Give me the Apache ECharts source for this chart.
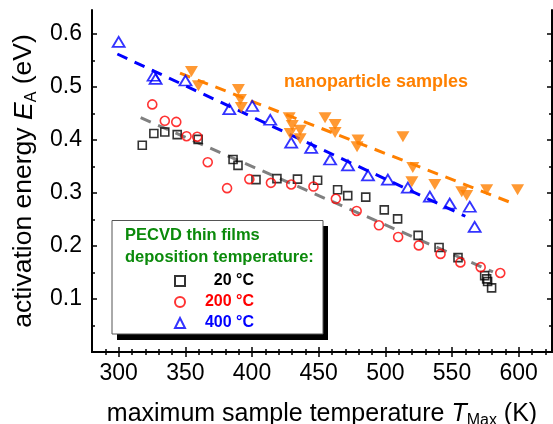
<!DOCTYPE html>
<html>
<head>
<meta charset="utf-8">
<script src="https://cdn.jsdelivr.net/npm/echarts@6/dist/echarts.min.js"></script>
<style>
  html, body { margin: 0; padding: 0; background: #fff; }
  #chart { width: 553px; height: 424px; }
</style>
</head>
<body>
<div id="chart"></div>
<script>
// tick positions
const xTicks = [300, 350, 400, 450, 500, 550, 600];
const xMinor = [290, 300, 310, 320, 330, 340, 350, 360, 370, 380, 390, 400, 410, 420, 430, 440, 450, 460,
  470, 480, 490, 500, 510, 520, 530, 540, 550, 560, 570, 580, 590, 600, 610, 620];
const yTicks = [0.1, 0.2, 0.3, 0.4, 0.5, 0.6];
const yMinor = [0.05, 0.15, 0.25, 0.35, 0.45, 0.55];

// [T_Max (K), E_A (eV)]
const films20 = [[317.7, 0.390], [326.4, 0.412], [334.6, 0.415], [343.9, 0.410], [359.6, 0.401], [385.8, 0.363],
  [389.5, 0.352], [403, 0.325], [418.7, 0.327], [434.1, 0.326], [449.2, 0.324], [464.2, 0.306], [471.8, 0.295],
  [485.3, 0.292], [499.2, 0.268], [509.2, 0.251], [524.6, 0.220], [540.3, 0.197], [554.5, 0.178], [574.5, 0.144],
  [576, 0.138], [576.7, 0.133], [579.7, 0.121]];
const films200 = [[325.2, 0.467], [334.6, 0.436], [343.2, 0.434], [350.9, 0.407], [358.9, 0.406], [366.8, 0.358],
  [381.3, 0.309], [398, 0.326], [414.2, 0.319], [429.4, 0.316], [446.1, 0.312], [462.9, 0.289], [478.5, 0.266],
  [495.2, 0.239], [509.6, 0.217], [525.1, 0.201], [541.4, 0.185], [556.3, 0.169], [571.5, 0.160], [586.2, 0.149]];
const films400 = [[300, 0.585], [326.2, 0.521], [327.7, 0.515], [350.1, 0.512], [383, 0.458], [400.2, 0.464],
  [413.7, 0.438], [429.4, 0.395], [444.4, 0.385], [458.6, 0.363], [472, 0.352], [487, 0.333], [501.9, 0.325],
  [516.9, 0.310], [533.4, 0.293], [548.3, 0.280], [563.3, 0.274], [567, 0.236]];
const nano = [[354.6, 0.529], [359.8, 0.502], [389.8, 0.495], [391.3, 0.476], [392, 0.461], [427.9, 0.442],
  [430.2, 0.427], [436.1, 0.418], [428.6, 0.412], [436.1, 0.402], [454.8, 0.442], [462.3, 0.429], [462.3, 0.414],
  [479.5, 0.400], [478.8, 0.387], [513.2, 0.406], [520.6, 0.348], [519.9, 0.321], [537.1, 0.316], [557.3, 0.302],
  [561, 0.295], [576, 0.306], [599.2, 0.306]];

// linear fits (end points)
const fit20 = [[316.5, 0.442], [580.7, 0.151]];
const fit400 = [[299, 0.562], [560, 0.256]];
const fitNano = [[346, 0.526], [598, 0.278]];

const FONT = 'Liberation Sans, Arial, sans-serif';
const chart = echarts.init(document.getElementById('chart'));

const axisLine = { show: true, lineStyle: { color: '#000', width: 2 } };
const xBase = { type: 'value', min: 280, max: 625, splitLine: { show: false } };
const yBase = { type: 'value', min: 0, max: 0.645, splitLine: { show: false } };

function tick(values, len) {
  return { show: true, inside: true, length: len, customValues: values, lineStyle: { color: '#000', width: 1.5 } };
}

const fitLine = (data, color) => ({
  type: 'line', data: data, symbol: 'none', silent: true,
  lineStyle: { color: color, width: 3, type: [11, 8] }, z: 1
});

const legendKey = { '20 °C': 'k', '200 °C': 'r', '400 °C': 'b' };

chart.setOption({
  animation: false,
  grid: { left: 92, right: 1, top: 10, bottom: 72, containLabel: false, outerBoundsMode: 'none' },
  xAxis: [
    Object.assign({}, xBase, {
      position: 'bottom', axisLine: axisLine, axisTick: tick(xTicks, 5),
      axisLabel: { customValues: xTicks, fontSize: 23, color: '#000', margin: 10, fontFamily: FONT },
      name: '{n|maximum sample temperature }{i|T}{s|Max}{n| (K)}',
      nameLocation: 'middle', nameGap: 47,
      nameTextStyle: {
        rich: {
          n: { fontSize: 25, color: '#000', fontFamily: FONT, lineHeight: 30 },
          i: { fontSize: 25, color: '#000', fontFamily: FONT, fontStyle: 'italic', lineHeight: 30 },
          s: { fontSize: 16, color: '#000', fontFamily: FONT, verticalAlign: 'bottom', lineHeight: 12 }
        }
      }
    }),
    Object.assign({}, xBase, { position: 'bottom', axisLine: { show: false }, axisTick: tick(xMinor, 3), axisLabel: { show: false } }),
    Object.assign({}, xBase, { position: 'top', axisLine: axisLine, axisTick: tick(xTicks, 5), axisLabel: { show: false } }),
    Object.assign({}, xBase, { position: 'top', axisLine: { show: false }, axisTick: tick(xMinor, 3), axisLabel: { show: false } })
  ],
  yAxis: [
    Object.assign({}, yBase, {
      position: 'left', axisLine: axisLine, axisTick: tick(yTicks, 5),
      axisLabel: { customValues: yTicks, fontSize: 23, color: '#000', margin: 10, fontFamily: FONT },
      name: '{n|activation energy }{i|E}{s|A}{n| (eV)}',
      nameLocation: 'middle', nameGap: 48,
      nameTextStyle: {
        rich: {
          n: { fontSize: 26.5, color: '#000', fontFamily: FONT, lineHeight: 30 },
          i: { fontSize: 26.5, color: '#000', fontFamily: FONT, fontStyle: 'italic', lineHeight: 30 },
          s: { fontSize: 16, color: '#000', fontFamily: FONT, verticalAlign: 'bottom', lineHeight: 12 }
        }
      }
    }),
    Object.assign({}, yBase, { position: 'left', axisLine: { show: false }, axisTick: tick(yMinor, 3), axisLabel: { show: false } }),
    Object.assign({}, yBase, { position: 'right', axisLine: axisLine, axisTick: tick(yTicks, 5), axisLabel: { show: false } }),
    Object.assign({}, yBase, { position: 'right', axisLine: { show: false }, axisTick: tick(yMinor, 3), axisLabel: { show: false } })
  ],
  legend: {
    left: 112, top: 221, orient: 'vertical',
    data: ['20 °C', '200 °C', '400 °C'],
    itemWidth: 10, itemHeight: 10, itemGap: 5,
    padding: [52, 70, 9, 62],
    backgroundColor: 'transparent', borderWidth: 0,
    selectedMode: false,
    formatter: name => '{' + legendKey[name] + '|' + name + '}',
    textStyle: {
      rich: {
        k: { width: 64, align: 'right', color: '#000', fontWeight: 'bold', fontSize: 16, fontFamily: FONT },
        r: { width: 64, align: 'right', color: '#ff0000', fontWeight: 'bold', fontSize: 16, fontFamily: FONT },
        b: { width: 64, align: 'right', color: '#0000ff', fontWeight: 'bold', fontSize: 16, fontFamily: FONT }
      }
    }
  },
  graphic: [
    // legend frame with its drop shadow
    { type: 'rect', z: 2, shape: { x: 117, y: 226, width: 211, height: 114 }, style: { fill: '#000' } },
    { type: 'rect', z: 3, shape: { x: 112, y: 220.5, width: 211, height: 113.5 }, style: { fill: '#fff', stroke: '#555', lineWidth: 1 } },
    { type: 'text', left: 284, top: 73, z: 10, style: { text: 'nanoparticle samples', fill: '#ff8000', font: 'bold 18px ' + FONT } },
    { type: 'text', left: 125, top: 227, z: 10, style: { text: 'PECVD thin films', fill: '#0b8a0b', font: 'bold 16.5px ' + FONT } },
    { type: 'text', left: 125, top: 249, z: 10, style: { text: 'deposition temperature:', fill: '#0b8a0b', font: 'bold 16.5px ' + FONT } }
  ],
  series: [
    fitLine(fit20, '#808080'),
    fitLine(fit400, '#0000ff'),
    fitLine(fitNano, '#ff8000'),
    {
      name: '20 °C', type: 'scatter', data: films20, symbol: 'rect', symbolSize: 8,
      itemStyle: { color: 'rgba(255,255,255,0)', borderColor: '#000', borderWidth: 1.6 }
    },
    {
      name: '200 °C', type: 'scatter', data: films200, symbol: 'circle', symbolSize: 9,
      itemStyle: { color: 'rgba(255,255,255,0)', borderColor: '#ff0000', borderWidth: 1.6 }
    },
    {
      name: '400 °C', type: 'scatter', data: films400, symbol: 'triangle', symbolSize: [12, 10],
      itemStyle: { color: 'rgba(255,255,255,0)', borderColor: '#0000ff', borderWidth: 1.8 }
    },
    {
      name: 'nanoparticle samples', type: 'scatter', data: nano, symbol: 'triangle', symbolSize: [13, 11],
      symbolRotate: 180, itemStyle: { color: '#ff8000' }
    }
  ]
});
</script>
</body>
</html>
